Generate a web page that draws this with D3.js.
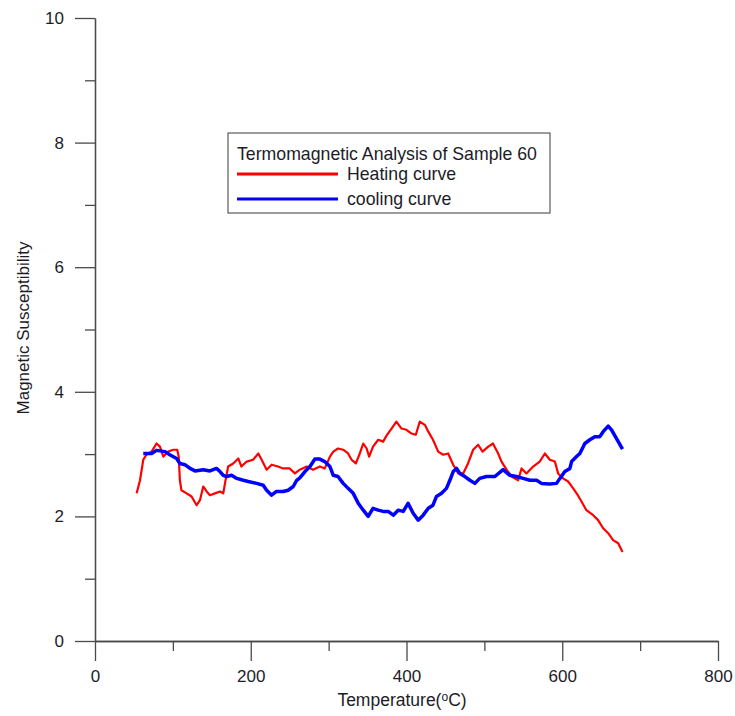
<!DOCTYPE html>
<html>
<head>
<meta charset="utf-8">
<script src="https://d3js.org/d3.v7.min.js"></script>
<style>
  body { margin: 0; background: #fff; }
  svg { display: block; font-family: "Liberation Sans", Arial, sans-serif; }
</style>
</head>
<body>
<svg id="drawing_region"></svg>
<script>
// heating curve (red), temperature in degC and susceptibility
const heatT = [53.5, 57.8, 62, 66, 72.7, 79, 83.4, 87.7, 94, 100.5, 105.6, 107.5, 109, 111, 117.7, 124, 130.5, 134.8,
  139, 143.4, 147.6, 154, 160.5, 164.7, 166.9, 171, 177.5, 184, 188, 194.7, 203, 209.7, 214, 220.4, 226.8, 235,
  241.7, 250, 256.7, 263, 271.8, 280, 288.8, 295, 301.7, 306, 312, 318.7, 325, 329.5, 335, 340, 344.5, 348.8,
  352, 357, 363.7, 370, 375, 380.8, 387, 393.6, 400, 406.5, 412, 417, 423.6, 428, 434, 440.7, 447, 453.5, 460,
  466.4, 472.8, 479, 485.6, 492, 497.6, 505, 511, 517.7, 522, 528.5, 535, 543.4, 547.7, 554, 562.6, 571, 577.7,
  584, 590.5, 594.7, 601, 607.6, 614, 620, 624.7, 631, 639.7, 646, 652.5, 659, 665.3, 671.8, 677.4];
const heatV = [2.37, 2.58, 2.91, 2.99, 3.04, 3.17, 3.12, 2.96, 3.04, 3.07, 3.07, 2.96, 2.58, 2.42, 2.37, 2.32, 2.18, 2.26,
  2.48, 2.40, 2.34, 2.37, 2.40, 2.37, 2.53, 2.80, 2.85, 2.93, 2.80, 2.88, 2.91, 3.01, 2.91, 2.75, 2.83, 2.80,
  2.77, 2.77, 2.69, 2.75, 2.80, 2.75, 2.80, 2.77, 2.96, 3.04, 3.09, 3.07, 3.01, 2.91, 2.85, 3.01, 3.17, 3.09,
  2.96, 3.12, 3.23, 3.20, 3.31, 3.41, 3.52, 3.41, 3.39, 3.33, 3.31, 3.52, 3.47, 3.36, 3.23, 3.04, 2.99, 3.01, 2.83,
  2.69, 2.69, 2.85, 3.07, 3.15, 3.04, 3.12, 3.17, 3.01, 2.88, 2.75, 2.64, 2.58, 2.77, 2.69, 2.80, 2.88, 3.01,
  2.91, 2.88, 2.69, 2.61, 2.56, 2.45, 2.34, 2.24, 2.10, 2.02, 1.94, 1.81, 1.73, 1.62, 1.57, 1.43];

// cooling curve (blue)
const coolT = [62, 72.7, 79, 90, 96, 104.8, 109, 115.5, 122, 128.4, 139, 147.6, 156, 160.5, 164.7, 169, 175.4, 182,
  190.4, 196.8, 207.6, 216, 220.4, 226.8, 233, 241.7, 248, 254.6, 259, 263, 269.6, 276, 282.4, 288.8, 295, 301.7,
  306, 312, 318.7, 325, 331.6, 338, 344.5, 350.8, 357, 363.7, 370, 376.5, 383, 389.3, 395.8, 402, 408.6, 415,
  421.4, 428, 434, 438.5, 445, 451.3, 455.7, 460, 464.3, 468.5, 475, 481.4, 487.8, 494, 502.7, 513.5, 524, 532.7,
  541, 549.8, 558.4, 567, 573.3, 584, 592.7, 597, 603.3, 609.8, 612, 618.4, 622.6, 629, 635.4, 641.8, 648.3, 652.5,
  659, 663.3, 669.7, 677.4];
const coolV = [3.01, 3.01, 3.06, 3.04, 2.99, 2.93, 2.85, 2.83, 2.77, 2.73, 2.75, 2.73, 2.77, 2.72, 2.66, 2.64, 2.66, 2.61,
  2.58, 2.56, 2.53, 2.50, 2.42, 2.34, 2.40, 2.40, 2.42, 2.48, 2.58, 2.62, 2.72, 2.80, 2.92, 2.92, 2.88, 2.80,
  2.66, 2.64, 2.53, 2.45, 2.37, 2.21, 2.10, 2.00, 2.13, 2.10, 2.08, 2.08, 2.02, 2.10, 2.08, 2.21, 2.05, 1.94,
  2.02, 2.13, 2.18, 2.32, 2.37, 2.45, 2.58, 2.72, 2.77, 2.69, 2.64, 2.58, 2.53, 2.61, 2.64, 2.64, 2.75, 2.66,
  2.64, 2.61, 2.58, 2.58, 2.53, 2.52, 2.53, 2.61, 2.72, 2.77, 2.88, 2.96, 3.01, 3.17, 3.23, 3.28, 3.28, 3.36,
  3.45, 3.39, 3.25, 3.08];

const xMajor = [0, 200, 400, 600, 800];
const xMinor = [100, 300, 500, 700];
const yMajor = [0, 2, 4, 6, 8, 10];
const yMinor = [1, 3, 5, 7, 9];

const legendTitle = "Termomagnetic Analysis of Sample 60";
const seriesNames = ["Heating curve", "cooling curve"];

const config = {
    parent: '#drawing_region',
    width: 735,
    height: 716,
    margin: { left: 95, top: 18, right: 17, bottom: 75 }
};

const svg = d3.select(config.parent)
    .attr('width', config.width)
    .attr('height', config.height);

const inner_w = config.width - config.margin.left - config.margin.right;
const inner_h = config.height - config.margin.top - config.margin.bottom;

const chart = svg.append('g')
    .attr('transform', `translate(${config.margin.left}, ${config.margin.top})`);

const xscale = d3.scaleLinear().domain([0, 800]).range([0, inner_w]);
const yscale = d3.scaleLinear().domain([0, 10]).range([inner_h, 0]);

const axisColor = '#4a4a4a';
const textColor = '#1c1c28';

// minor ticks first, majors on top
chart.append('g')
    .attr('transform', `translate(0, ${inner_h})`)
    .call(d3.axisBottom(xscale).tickValues(xMinor).tickSize(10).tickSizeOuter(0).tickFormat(''));
chart.append('g')
    .call(d3.axisLeft(yscale).tickValues(yMinor).tickSize(10).tickSizeOuter(0).tickFormat(''));

const xaxis = chart.append('g')
    .attr('transform', `translate(0, ${inner_h})`)
    .call(d3.axisBottom(xscale).tickValues(xMajor).tickSize(20).tickSizeOuter(0).tickPadding(9));
const yaxis = chart.append('g')
    .call(d3.axisLeft(yscale).tickValues(yMajor).tickSize(20).tickSizeOuter(0).tickPadding(11));

chart.selectAll('.domain, .tick line')
    .attr('stroke', axisColor)
    .attr('stroke-width', 1.3);
chart.selectAll('.tick text')
    .attr('fill', textColor)
    .style('font-size', '17px');

// axis titles
const xt = svg.append('text')
    .attr('x', 402)
    .attr('y', 706)
    .attr('text-anchor', 'middle')
    .attr('fill', textColor)
    .style('font-size', '17.5px');
xt.append('tspan').text('Temperature(');
xt.append('tspan').attr('dy', -5).style('font-size', '12px').text('o');
xt.append('tspan').attr('dy', 5).text('C)');

svg.append('text')
    .attr('transform', 'translate(29, 328) rotate(-90)')
    .attr('text-anchor', 'middle')
    .attr('fill', textColor)
    .style('font-size', '17px')
    .text('Magnetic Susceptibility');

// curves
const heating = heatT.map((t, i) => ({ t: t, v: heatV[i] }));
const cooling = coolT.map((t, i) => ({ t: t, v: coolV[i] }));

const line = d3.line()
    .x(d => xscale(d.t))
    .y(d => yscale(d.v));

chart.append('path')
    .datum(heating)
    .attr('d', line)
    .attr('fill', 'none')
    .attr('stroke', '#ff0000')
    .attr('stroke-width', 2.2)
    .attr('stroke-linejoin', 'round');

chart.append('path')
    .datum(cooling)
    .attr('d', line)
    .attr('fill', 'none')
    .attr('stroke', '#0000ff')
    .attr('stroke-width', 3.5)
    .attr('stroke-linejoin', 'round');

// legend
const legend = svg.append('g').attr('transform', 'translate(228, 133)');
legend.append('rect')
    .attr('width', 322)
    .attr('height', 80)
    .attr('fill', '#fff')
    .attr('stroke', '#3a3a3a')
    .attr('stroke-width', 1);
legend.append('text')
    .attr('x', 9)
    .attr('y', 27)
    .attr('fill', textColor)
    .style('font-size', '17.7px')
    .text(legendTitle);

const colors = ['#ff0000', '#0000ff'];
seriesNames.forEach((name, i) => {
    const y = 41 + i * 25;
    legend.append('line')
        .attr('x1', 9).attr('x2', 110)
        .attr('y1', y).attr('y2', y)
        .attr('stroke', colors[i])
        .attr('stroke-width', 3);
    legend.append('text')
        .attr('x', 119)
        .attr('y', y + 6)
        .attr('fill', textColor)
        .style('font-size', '17.7px')
        .text(name);
});
</script>
</body>
</html>
